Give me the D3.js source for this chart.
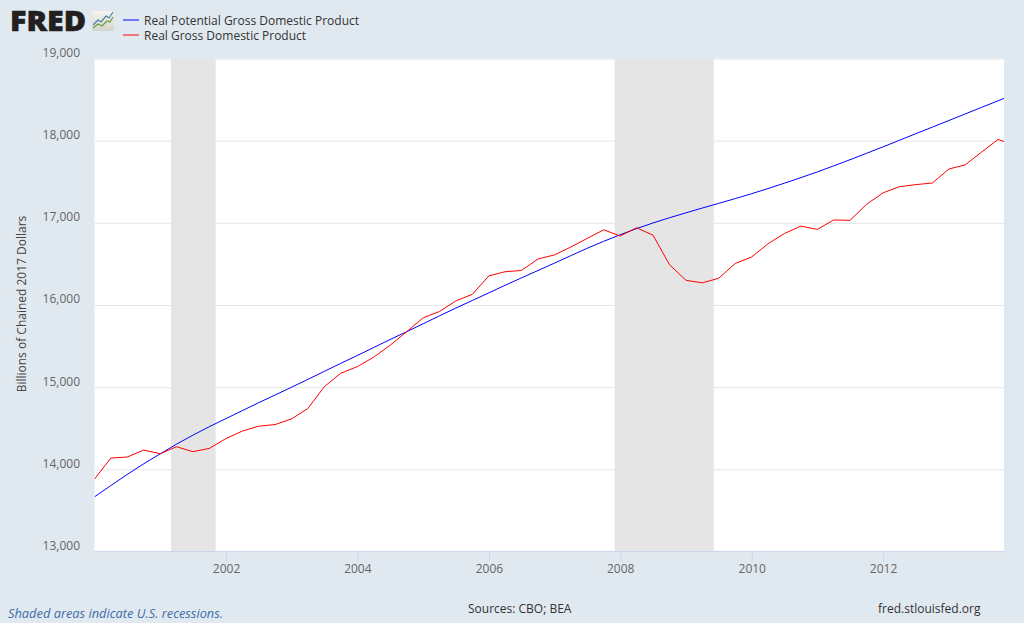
<!DOCTYPE html>
<html>
<head>
<meta charset="utf-8">
<script src="https://d3js.org/d3.v7.min.js"></script>
<style>
  html, body { margin: 0; padding: 0; background: #e1e9f0; overflow: hidden; }
  text { font-family: "Open Sans", sans-serif; }
</style>
</head>
<body>
<svg id="chart"></svg>
<script>
const startYear = 2000;
// quarterly, 2000 Q1 to 2014 Q1
const potentialGdp = [
  13665, 13803, 13938, 14068, 14190, 14306, 14416, 14520, 14618, 14714,
  14810, 14905, 15000, 15095, 15192, 15290, 15386, 15483, 15580, 15675,
  15772, 15868, 15962, 16055, 16148, 16240, 16330, 16420, 16510, 16600,
  16690, 16775, 16855, 16930, 16998, 17062, 17122, 17180, 17237, 17295,
  17355, 17417, 17482, 17550, 17620, 17693, 17768, 17846, 17925, 18005,
  18085, 18165, 18245, 18325, 18405, 18485, 18565
];
const realGdp = [
  13882, 14137, 14150, 14235, 14190, 14275, 14215, 14255, 14375, 14465,
  14525, 14545, 14615, 14740, 15005, 15170, 15250, 15365, 15510, 15675,
  15845, 15920, 16050, 16130, 16355, 16405, 16420, 16560, 16610, 16705,
  16810, 16915, 16840, 16940, 16850, 16490, 16300, 16270, 16325, 16505,
  16585, 16745, 16870, 16960, 16920, 17035, 17030, 17225, 17365, 17440,
  17465, 17485, 17655, 17705, 17860, 18015, 17945
];
const recessions = [
  ['2001-03-01', '2001-11-01'],
  ['2007-12-01', '2009-06-01']
];
const yTicks = [13000, 14000, 15000, 16000, 17000, 18000, 19000];
const xTickYears = [2002, 2004, 2006, 2008, 2010, 2012];
const legendNames = ['Real Potential Gross Domestic Product', 'Real Gross Domestic Product'];
const seriesColors = ['#0000ff', '#ff0000'];

const w = 1024;
const h = 623;
const plot = { left: 94.5, right: 1004, top: 58.5, bottom: 551.5 };

const svg = d3.select('#chart')
  .attr('width', w)
  .attr('height', h)
  .style('display', 'block');

svg.append('rect').attr('width', w).attr('height', h).attr('fill', '#e1e9f0');

const parseDay = d3.timeParse('%Y-%m-%d');
const quarter = i => new Date(startYear + Math.floor(i / 4), (i % 4) * 3, 1);

const xScale = d3.scaleTime()
  .domain([new Date(2000, 0, 1), new Date(2013, 10, 3)])
  .range([plot.left, plot.right]);
const yScale = d3.scaleLinear()
  .domain([13000, 19000])
  .range([plot.bottom, plot.top]);

svg.append('rect')
  .attr('x', plot.left)
  .attr('y', plot.top)
  .attr('width', plot.right - plot.left)
  .attr('height', plot.bottom - plot.top)
  .attr('fill', '#ffffff');

svg.append('clipPath').attr('id', 'plot-clip')
  .append('rect')
  .attr('x', plot.left)
  .attr('y', plot.top)
  .attr('width', plot.right - plot.left)
  .attr('height', plot.bottom - plot.top);

// recession bands
svg.selectAll('.recession')
  .data(recessions)
  .join('rect')
    .attr('class', 'recession')
    .attr('x', d => xScale(parseDay(d[0])))
    .attr('y', plot.top)
    .attr('width', d => xScale(parseDay(d[1])) - xScale(parseDay(d[0])) + 0.6)
    .attr('height', plot.bottom - plot.top)
    .attr('fill', '#e5e5e5');

// y axis, labels sit above the grid lines
const yAxis = d3.axisLeft(yScale)
  .tickValues(yTicks)
  .tickSize(plot.left - plot.right)
  .tickFormat(d3.format(','));
const yG = svg.append('g')
  .attr('transform', `translate(${plot.left}, 0)`)
  .call(yAxis);
yG.select('.domain').remove();
yG.selectAll('.tick line').attr('stroke', '#e6e6e6').attr('stroke-width', 1);
yG.selectAll('.tick text')
  .attr('x', -14.5)
  .attr('y', -6)
  .attr('dy', '0.32em')
  .attr('fill', '#666666')
  .style('font-size', '12px');

// x axis
const xAxis = d3.axisBottom(xScale)
  .tickValues(xTickYears.map(y => new Date(y, 0, 1)))
  .tickSize(10)
  .tickPadding(3)
  .tickFormat(d3.timeFormat('%Y'));
const xG = svg.append('g')
  .attr('transform', `translate(0, ${plot.bottom})`)
  .call(xAxis);
xG.select('.domain').attr('stroke', '#ccd6eb').attr('d', `M${plot.left},0H${plot.right}`);
xG.selectAll('.tick line').attr('stroke', '#ccd6eb');
xG.selectAll('.tick text')
  .attr('fill', '#666666')
  .style('font-size', '12px');

// series
const line = d3.line()
  .x((_, i) => xScale(quarter(i)))
  .y(d => yScale(d));
const lines = svg.append('g').attr('clip-path', 'url(#plot-clip)');
[potentialGdp, realGdp].forEach((vals, i) => {
  lines.append('path')
    .datum(vals)
    .attr('d', line)
    .attr('fill', 'none')
    .attr('stroke', seriesColors[i])
    .attr('stroke-width', 1);
});

// legend
legendNames.forEach((name, i) => {
  const ly = 20 + i * 15;
  svg.append('line')
    .attr('x1', 123).attr('x2', 139)
    .attr('y1', ly).attr('y2', ly)
    .attr('stroke', seriesColors[i])
    .attr('stroke-width', 1);
  svg.append('text')
    .attr('x', 144).attr('y', ly + 5)
    .attr('fill', '#333333')
    .style('font-size', '12px')
    .text(name);
});

// axis title
svg.append('text')
  .attr('transform', 'translate(26, 304) rotate(-90)')
  .attr('text-anchor', 'middle')
  .attr('fill', '#444444')
  .style('font-size', '12px')
  .text('Billions of Chained 2017 Dollars');

// logo
svg.append('text')
  .attr('x', 10).attr('y', 30.5)
  .attr('fill', '#231f20')
  .attr('stroke', '#231f20')
  .attr('stroke-width', 0.6)
  .attr('textLength', 76)
  .attr('lengthAdjust', 'spacingAndGlyphs')
  .style('font-size', '28px')
  .style('font-weight', 800)
  .text('FRED');
const iconGrad = svg.append('linearGradient')
  .attr('id', 'icon-bg').attr('x1', 0).attr('x2', 0).attr('y1', 0).attr('y2', 1);
iconGrad.append('stop').attr('offset', 0).attr('stop-color', '#f4f4f0');
iconGrad.append('stop').attr('offset', 1).attr('stop-color', '#d4d4cc');
svg.append('rect')
  .attr('x', 92).attr('y', 11).attr('width', 22).attr('height', 20).attr('rx', 2)
  .attr('fill', 'url(#icon-bg)');
svg.append('polyline')
  .attr('points', '93,25 98,20 101,22 106,16 109,18 113,12')
  .attr('fill', 'none').attr('stroke', '#4a7fa5').attr('stroke-width', 1.2);
svg.append('polyline')
  .attr('points', '93,28 98,24 102,26 107,21 110,22 113,17')
  .attr('fill', 'none').attr('stroke', '#6d9a3a').attr('stroke-width', 1.2);

// footer
svg.append('text')
  .attr('x', 8).attr('y', 618)
  .attr('fill', '#3e6ea8')
  .attr('textLength', 215)
  .attr('lengthAdjust', 'spacingAndGlyphs')
  .style('font-size', '13px')
  .style('font-style', 'italic')
  .text('Shaded areas indicate U.S. recessions.');
svg.append('text')
  .attr('x', 468).attr('y', 613)
  .attr('fill', '#333333')
  .style('font-size', '12px')
  .text('Sources: CBO; BEA');
svg.append('text')
  .attr('x', 878).attr('y', 613)
  .attr('fill', '#333333')
  .style('font-size', '12px')
  .text('fred.stlouisfed.org');
</script>
</body>
</html>
